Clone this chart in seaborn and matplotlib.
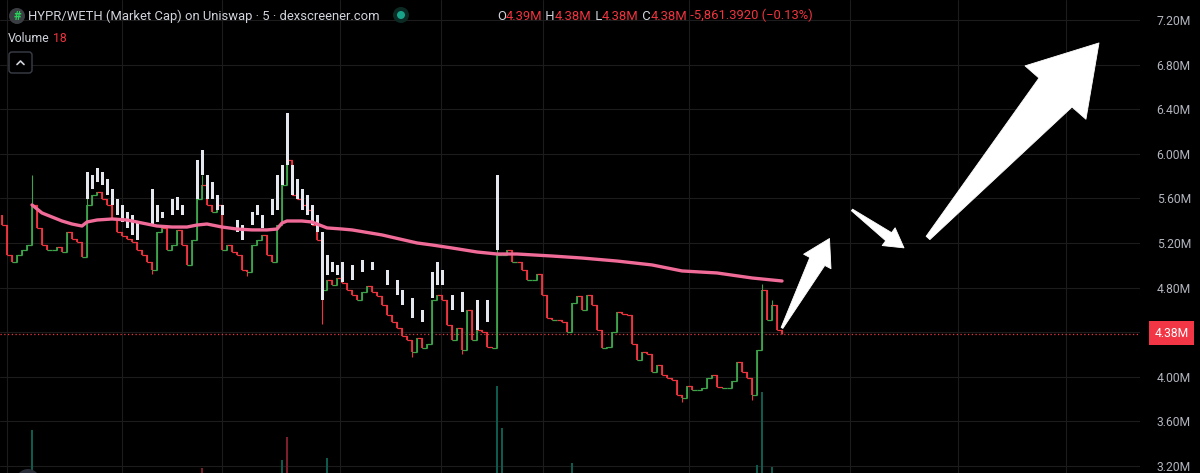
import numpy as np
import pandas as pd
import matplotlib
matplotlib.use("Agg")
import matplotlib.pyplot as plt
import matplotlib.transforms as mtransforms
from matplotlib.patches import Circle, FancyBboxPatch, Polygon
from matplotlib.lines import Line2D
import seaborn as sns

# 5-minute market cap candles, in millions (open = previous close)
first_open = 5.45
close = [
    5.36, 5.09, 5.03, 5.09, 5.14, 5.18, 5.54, 5.33, 5.18, 5.14,
    5.14, 5.16, 5.12, 5.30, 5.24, 5.21, 5.07, 5.54, 5.63, 5.66,
    5.59, 5.54, 5.42, 5.30, 5.26, 5.24, 5.21, 5.14, 5.09, 5.03,
    4.96, 5.30, 5.33, 5.14, 5.18, 5.32, 5.18, 5.00, 5.23, 5.59,
    5.72, 5.54, 5.48, 5.54, 5.14, 5.18, 5.12, 5.09, 4.96, 4.94,
    5.18, 5.23, 5.27, 5.09, 5.03, 5.36, 5.72, 5.94, 5.63, 5.59,
    5.54, 5.50, 5.36, 5.23, 4.78, 4.87, 4.82, 4.89, 4.84, 4.78,
    4.73, 4.69, 4.76, 4.81, 4.76, 4.72, 4.64, 4.55, 4.49, 4.44,
    4.37, 4.33, 4.22, 4.35, 4.26, 4.29, 4.69, 4.73, 4.69, 4.46,
    4.33, 4.44, 4.24, 4.60, 4.33, 4.42, 4.40, 4.27, 4.26, 5.09,
    5.09, 5.14, 5.03, 5.03, 4.96, 4.87, 4.87, 4.92, 4.73, 4.53,
    4.51, 4.51, 4.49, 4.40, 4.66, 4.72, 4.60, 4.73, 4.64, 4.42,
    4.26, 4.27, 4.40, 4.58, 4.56, 4.55, 4.29, 4.15, 4.22, 4.20,
    4.04, 4.11, 4.02, 3.99, 3.97, 3.84, 3.81, 3.92, 3.88, 3.88,
    3.90, 3.99, 4.02, 3.91, 3.90, 3.90, 3.96, 4.13, 4.04, 3.99,
    3.84, 4.24, 4.78, 4.51, 4.64, 4.42, 4.38,
]
wick_high = {6: 5.81, 17: 5.66, 40: 5.81, 57: 6.16, 99: 5.59, 152: 4.83, 154: 4.69}
wick_low = {30: 4.92, 49: 4.90, 64: 4.47, 82: 4.18, 92: 4.20, 136: 3.77, 150: 3.79}

# white ghost bars drawn over the candles
ghost_idx = [17, 18, 19, 20, 21, 22, 23, 24, 25, 26, 27, 30, 31, 32, 34, 35, 36,
             39, 40, 41, 42, 43, 44, 47, 48, 50, 51, 52, 54, 55, 56, 57, 58, 59,
             60, 61, 62, 63, 64, 65, 66, 67, 68, 70, 72, 74, 77, 79, 80, 82, 84,
             86, 87, 88, 90, 92, 95, 97, 99]
ghost_hi = [5.84, 5.81, 5.87, 5.84, 5.77, 5.68, 5.59, 5.54, 5.48, 5.45, 5.39,
            5.68, 5.54, 5.48, 5.59, 5.61, 5.54, 5.94, 6.03, 5.81, 5.75, 5.63,
            5.54, 5.41, 5.36, 5.48, 5.54, 5.45, 5.59, 5.81, 5.90, 6.37, 5.90,
            5.77, 5.68, 5.63, 5.54, 5.45, 5.30, 5.09, 5.03, 5.00, 5.03, 5.00,
            5.05, 5.03, 4.96, 4.87, 4.78, 4.71, 4.60, 4.94, 5.03, 4.96, 4.73,
            4.76, 4.69, 4.69, 5.81]
ghost_lo = [5.59, 5.68, 5.75, 5.72, 5.63, 5.54, 5.45, 5.39, 5.33, 5.27, 5.23,
            5.36, 5.39, 5.42, 5.45, 5.50, 5.45, 5.59, 5.81, 5.59, 5.59, 5.50,
            5.45, 5.30, 5.23, 5.36, 5.45, 5.33, 5.45, 5.50, 5.72, 5.90, 5.63,
            5.59, 5.50, 5.45, 5.36, 5.30, 4.69, 4.91, 4.94, 4.91, 4.85, 4.87,
            4.94, 4.96, 4.82, 4.73, 4.64, 4.53, 4.49, 4.71, 4.82, 4.82, 4.60,
            4.58, 4.42, 4.49, 5.14]

# moving average (pink)
ma_idx = [6, 8, 10, 12, 14, 16, 17, 19, 22, 25, 28, 31, 34, 37, 39, 41, 44, 47,
          50, 53, 55, 56, 57, 60, 62, 63, 65, 68, 70, 76, 83, 86, 90, 95, 99,
          103, 110, 116, 123, 130, 136, 143, 150, 156]
ma_val = [5.541, 5.469, 5.433, 5.397, 5.370, 5.352, 5.388, 5.406, 5.415, 5.406,
          5.379, 5.352, 5.343, 5.343, 5.361, 5.370, 5.343, 5.325, 5.317, 5.317,
          5.325, 5.379, 5.397, 5.397, 5.388, 5.370, 5.335, 5.325, 5.317, 5.272,
          5.200, 5.182, 5.155, 5.119, 5.101, 5.101, 5.083, 5.065, 5.038, 5.003,
          4.949, 4.931, 4.886, 4.859]

# volume (thousands)
vol_idx = [6, 40, 56, 57, 65, 99, 100, 114, 151, 152, 154]
vol_val = [43, 5, 13, 36, 15, 87, 45, 10, 8, 81, 6]
vol_up = [True, False, True, False, True, True, True, True, True, True, True]

price_ticks = [3.2, 3.6, 4.0, 4.4, 4.8, 5.2, 5.6, 6.0, 6.4, 6.8, 7.2]
time_grid = [1, 24, 44, 67.6, 87.8, 108.2, 137.4, 169.6, 191.2, 212.8]
last_price = 4.38

title = "HYPR/WETH (Market Cap) on Uniswap \u00b7 5 \u00b7 dexscreener.com"
ohlc_parts = [("O", "g"), ("4.39M", "r"), (" H", "g"), ("4.38M", "r"),
              (" L", "g"), ("4.38M", "r"), (" C", "g"), ("4.38M", "r"),
              (" -5,861.3920 (\u22120.13%)", "r")]

# hand drawn arrows: tail, tip (index, price) and shaft/head sizes in px
arrows = [
    ((156.0, 4.438), (165.5, 5.240), 17, 31, 26, 2),
    ((170.0, 5.496), (180.4, 5.156), 10, 22, 19, 2),
    ((185.2, 5.245), (219.4, 6.994), 44, 81, 66, 5),
]

GREEN = "#3da24a"
RED = "#f0343f"
TXT = "#d1d4dc"
AXTXT = "#b2b5be"

sns.set_theme(style="dark", rc={"axes.facecolor": "black",
                                "figure.facecolor": "black",
                                "grid.color": "#1c1c1c"})
plt.rcParams["font.family"] = ["Roboto", "DejaVu Sans"]

fig = plt.figure(figsize=(12, 4.73), dpi=100)
px = mtransforms.Affine2D().scale(1 / 1200, -1 / 473).translate(0, 1) + fig.transFigure

ax = fig.add_axes([0, 0, 1140 / 1200, 1])
ax.set_xlim(-0.4, 227.6)
ax.set_ylim(3.137, 7.379)

ax2 = ax.twinx()
ax2.set_ylim(0, 473)
ax2.axis("off")
ax2.bar(vol_idx, vol_val, width=0.3,
        color=["#0e5a4c" if u else "#7a1f2b" for u in vol_up], linewidth=0)

# candles (thin bodies joined like a dense 5m chart)
df = pd.DataFrame({"close": close})
df["open"] = df["close"].shift(1).fillna(first_open)
df["high"] = df[["open", "close"]].max(axis=1)
df["low"] = df[["open", "close"]].min(axis=1)
for k, v in wick_high.items():
    df.loc[k, "high"] = max(v, df.loc[k, "high"])
for k, v in wick_low.items():
    df.loc[k, "low"] = min(v, df.loc[k, "low"])
cols = np.where(df["close"] >= df["open"], GREEN, RED)
ax.vlines(df.index, df["low"], df["high"], colors=cols, lw=0.8, zorder=2)
ax.vlines(df.index, df["open"], df["close"], colors=cols, lw=1.3, zorder=2)
ax.hlines(df["open"].iloc[1:], df.index[1:] - 1, df.index[1:], colors=cols[1:],
          lw=0.9, zorder=2)

ax.bar(ghost_idx, np.array(ghost_hi) - np.array(ghost_lo), bottom=ghost_lo,
       width=0.6, color="#e4e7ee", linewidth=0, zorder=3)

sns.lineplot(x=ma_idx, y=ma_val, ax=ax, color="#f06b98", lw=2.4, zorder=4)

ax.axhline(last_price, color=RED, lw=0.9, ls=(0, (1, 2)), zorder=1)

ax.yaxis.tick_right()
ax.set_yticks(price_ticks)
# the 4.40M label sits under the last-price tag, so it is left blank
ax.set_yticklabels(["" if abs(t - last_price) < 0.1 else f"{t:.2f}M"
                    for t in price_ticks])
ax.tick_params(axis="y", length=0, pad=12, labelsize=8.7, labelcolor=AXTXT)
ax.set_xticks(time_grid)
ax.tick_params(axis="x", length=0, labelbottom=False)
ax.grid(True, color="#1c1c1c", lw=0.8)
for s in ax.spines.values():
    s.set_visible(False)

# arrows
def arrow_poly(tail, tip, shaft_w, head_w, head_l, tail_w):
    p0 = ax.transData.transform(tail)
    p1 = ax.transData.transform(tip)
    d = p1 - p0
    u = d / np.hypot(*d)
    n = np.array([-u[1], u[0]])
    base = p1 - u * head_l
    pts = [p0 + n * tail_w / 2, base + n * shaft_w / 2, base + n * head_w / 2, p1,
           base - n * head_w / 2, base - n * shaft_w / 2, p0 - n * tail_w / 2]
    return ax.transData.inverted().transform(pts)

for tail, tip, sw, hw, hl, tw in arrows:
    ax.add_patch(Polygon(arrow_poly(tail, tip, sw, hw, hl, tw), closed=True,
                         fc="white", ec="white", lw=0.6, joinstyle="round",
                         zorder=6, clip_on=False))

# last price tag
fig.text(1171.5, 333, f"{last_price:.2f}M", transform=px, ha="center", va="center",
         color="white", fontsize=8.7,
         bbox=dict(boxstyle="square,pad=0.42", fc="#f23645", ec="none"))

# header
fig.add_artist(Circle((17, 16), 8, transform=px, fc="#3a3d42", ec="none"))
fig.text(17, 16.5, "#", transform=px, ha="center", va="center", color="#27d35a",
         fontsize=9, fontweight="bold")
fig.text(28, 16, title, transform=px, va="center", color=TXT, fontsize=9.4)
fig.add_artist(Circle((401, 15), 8, transform=px, fc="#0b2a24", ec="none"))
fig.add_artist(Circle((401, 15), 4, transform=px, fc="#18a38b", ec="none"))

prev = fig.text(497, 16, ohlc_parts[0][0], transform=px, va="center",
                color=TXT, fontsize=9.4)
for s, c in ohlc_parts[1:]:
    prev = ax.annotate(s, xy=(1, 0), xycoords=prev, va="bottom", ha="left",
                       color=TXT if c == "g" else RED, fontsize=9.4,
                       annotation_clip=False)

vt = fig.text(8, 38, "Volume", transform=px, va="center", color=TXT, fontsize=8.8)
ax.annotate(" 18", xy=(1, 0), xycoords=vt, va="bottom", ha="left", color=RED,
            fontsize=8.8, annotation_clip=False)

fig.add_artist(FancyBboxPatch((9, 52), 23, 21, transform=px,
                              boxstyle="round,pad=0,rounding_size=3",
                              fc="black", ec="#3a3e48", lw=1))
fig.add_artist(Line2D([17, 20.5, 24], [64.5, 61, 64.5], transform=px,
                      color=TXT, lw=1.2))

fig.add_artist(Circle((28, 481), 12, transform=px, fc="#2a2e39", ec="none"))

fig.savefig("out.png", dpi=100, facecolor="black")
